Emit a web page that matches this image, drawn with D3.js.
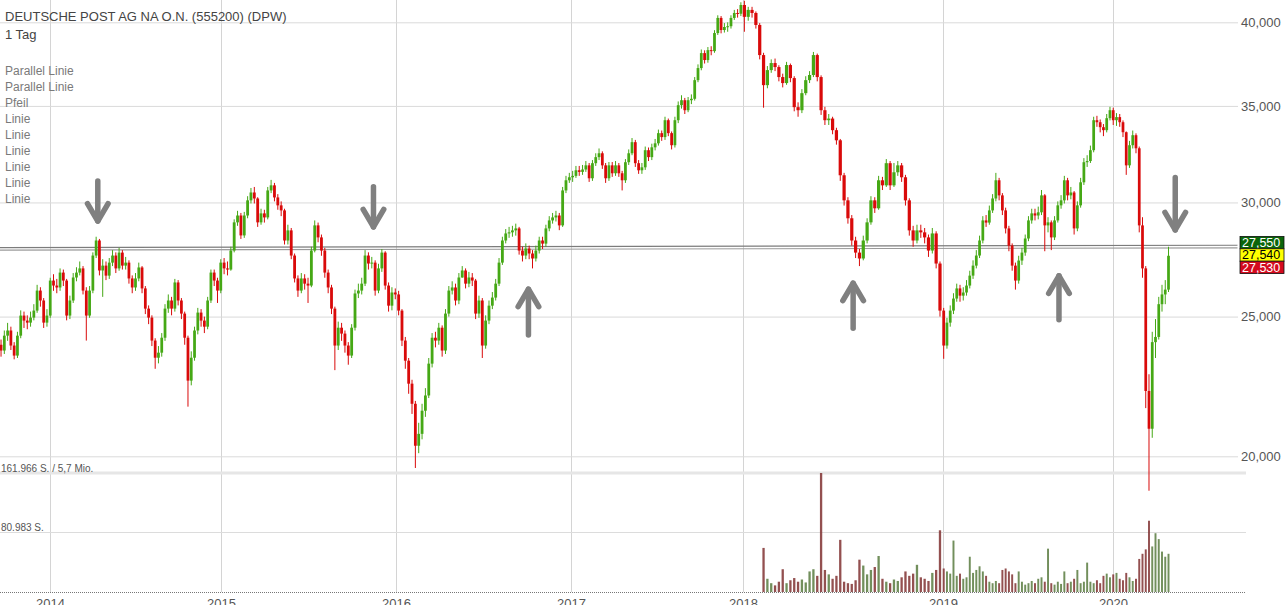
<!DOCTYPE html>
<html><head><meta charset="utf-8">
<script src="https://cdn.jsdelivr.net/npm/d3@7"></script>
<style>
html,body{margin:0;padding:0;background:#fff;overflow:hidden}
svg{display:block;font-family:"Liberation Sans",Arial,sans-serif}
</style></head><body>
<svg id="c" width="1288" height="605"></svg>
<script>
// ---------------- data ----------------
const title = "DEUTSCHE POST AG NA O.N. (555200) (DPW)";
const intervalLabel = "1 Tag";
const drawingList = ["Parallel Linie","Parallel Linie","Pfeil","Linie","Linie","Linie","Linie","Linie","Linie"];
const yearTicks = [2014, 2015, 2016, 2017, 2018, 2019, 2020];
const priceTicks = [20, 25, 30, 35, 40];

const firstWeek = "2013-09-16";   // weekly candles, Monday of each week
const firstOpen = 23.90;
const closes = [
 23.68,24.25,24.45,23.87,23.49,24.25,25.04,24.84,24.76,24.96,25.24,26.06,25.65,24.76,25.04,26.48,
 26.27,26.19,26.82,26.48,25.04,25.65,26.61,26.82,27.00,26.06, 25.04,26.06,27.56,28.23,26.91,27.12,26.69,27.25,27.56,27.00,
 27.69,27.12,27.25,26.57,26.19,26.57,27.04,26.15,25.32,24.96, 24.06,23.41,23.60,24.17,25.32,25.65,25.32,26.40,25.65,25.12,
 24.17,22.57,23.41,24.45,25.16,24.84,24.60,25.65,26.82,26.48, 26.06,27.25,
 27.00,26.95,27.78,29.06,29.38,28.46,29.38,30.10,30.48,30.19, 29.06,29.48,29.29,30.58,30.83,30.24,29.86,29.62,28.23,28.69,
 27.56,26.57,26.06,26.57,26.35,26.27,27.78,28.92,28.37,27.78, 26.82,26.19,25.32,23.87,24.56,24.33,23.87,23.49,24.56,25.94,
 26.06,26.35,27.56,27.21,27.25,26.06,27.00,27.69,26.27,25.44, 25.98,25.90,
 25.24,24.06,23.30,22.46,21.75,20.34,20.73,21.51,22.04,23.19, 24.17,24.06,24.56,23.68,25.12,26.06,26.19,25.65,26.61,26.91,
 26.35,26.61,26.48,25.12,25.65,23.87,24.84,25.44,25.77,26.35, 27.25,28.23,28.55,28.60,28.69,28.78,27.78,27.56,27.87,27.65,
 27.43,27.78,28.23,28.09,28.78,29.15,29.29,29.38,28.92,30.58, 31.08,31.23,
 31.30,31.58,31.50,31.62,31.83,31.18,31.94,32.25,32.45,31.83, 31.18,31.83,31.43,31.83,31.43,31.08,31.99,32.45,33.03,31.94,
 31.58,31.73,32.61,32.25,32.76,32.97,33.51,33.30,34.21,33.51, 32.87,34.21,35.04,35.32,34.76,35.32,35.40,36.47,37.18,38.08,
 37.66,38.26,38.20,39.32,40.28,39.51,39.70,39.75,40.28,40.60, 40.55,41.12,
 40.35,40.80,40.60,39.83,37.96,36.18,37.06,37.48,37.24,36.65, 36.30,37.36,36.59,34.93,34.76,35.72,36.47,36.77,37.96,36.65,
 34.76,34.21,34.30,33.67,33.13,31.33,30.10,29.25,28.23,27.69, 27.43,28.23,29.06,30.10,29.72,31.08,30.83,31.94,30.83,31.48,
 31.83,31.23,30.10,28.69,28.23,28.69,28.60,28.37,27.78,28.55, 27.21,25.24,
 23.87,24.76,25.24,25.73,26.15,25.85,25.98,26.27,26.69,27.12, 27.56,28.23,29.15,29.05,29.62,30.19,31.08,30.34,29.62,28.78,
 28.00,27.12,26.48,27.34,27.69,28.32,29.15,29.48,29.38,29.53, 30.34,28.92,29.06,28.37,29.15,29.86,30.10,31.08,30.34,30.48,
 28.78,29.86,30.98,31.99,32.05,32.61,34.21,34.10,33.83,33.67, 34.32,34.76,
 34.21,34.38,34.10,33.56,31.83,32.87,33.40,32.71,28.92,27.00, 22.20,20.90,24.00,24.20,25.50,25.90,26.10,27.55
];
const highs = [
 24.10,24.45,24.75,24.60,24.00,24.40,25.25,25.20,25.05,25.20,25.50,26.30,26.20,25.75,25.30,26.60,
 26.75,26.55,27.00,26.95,26.55,25.85,26.80,27.05,27.30,27.10, 26.20,26.25,27.70,28.40,28.30,27.40,27.30,27.45,27.80,27.70,
 27.90,27.80,27.50,27.35,26.70,26.80,27.25,27.10,26.25,25.45, 25.05,24.15,23.85,24.35,25.50,25.90,25.80,26.55,26.50,25.75,
 25.20,24.25,23.65,24.60,25.35,25.30,25.00,25.80,26.95,26.95, 26.60,27.40,
 27.45,27.30,27.95,29.20,29.60,29.50,29.55,30.30,30.70,30.75, 30.25,29.70,29.65,30.75,31.10,30.95,30.40,30.05,29.70,28.95,
 28.80,27.65,26.70,26.80,26.75,26.60,27.95,29.15,29.05,28.50, 27.90,26.95,26.30,25.40,24.80,24.75,24.45,24.00,24.70,26.10,
 26.35,26.60,27.80,27.70,27.50,27.35,27.20,27.85,27.75,26.40, 26.20,26.15,
 26.05,25.30,24.20,23.40,22.60,21.85,21.10,21.75,22.30,23.40, 24.35,24.40,24.75,24.65,25.30,26.25,26.45,26.35,26.80,27.10,
 27.00,26.85,26.80,26.55,25.85,25.75,25.05,25.65,26.00,26.55, 27.45,28.40,28.75,28.85,28.90,29.00,28.85,27.95,28.10,28.00,
 27.80,28.00,28.40,28.40,28.95,29.35,29.50,29.60,29.50,30.75, 31.30,31.45,
 31.55,31.80,31.80,31.85,32.05,31.95,32.10,32.45,32.70,32.55, 31.95,32.00,32.00,32.05,31.95,31.55,32.15,32.65,33.25,33.15,
 32.10,31.95,32.80,32.75,32.95,33.20,33.70,33.65,34.40,34.30, 33.60,34.40,35.25,35.60,35.45,35.50,35.65,36.65,37.40,38.30,
 38.25,38.45,38.50,39.50,40.45,40.40,39.95,40.00,40.45,40.80, 40.85,41.30,
 41.40,41.00,41.00,40.70,39.95,38.10,37.30,37.70,37.75,37.35, 36.85,37.55,37.45,36.70,35.20,35.95,36.70,37.00,38.15,38.05,
 36.75,34.95,34.55,34.40,33.80,33.20,31.45,30.25,29.40,28.40, 27.85,28.45,29.25,30.30,30.25,31.30,31.25,32.15,32.05,31.95,
 32.05,31.95,31.35,30.20,28.90,28.95,28.95,28.80,28.50,28.80, 28.65,27.30,
 25.35,24.95,25.45,25.95,26.35,26.30,26.20,26.50,26.90,27.35, 27.80,28.45,29.35,29.40,29.85,30.40,31.45,31.20,30.45,29.75,
 28.90,28.10,27.25,27.55,27.90,28.50,29.35,29.70,29.70,29.80, 30.60,30.40,29.30,29.15,29.35,30.05,30.35,31.30,31.20,30.75,
 30.55,30.05,31.20,32.20,32.35,32.85,34.40,34.45,34.25,34.00, 34.55,34.95,
 34.90,34.60,34.55,34.20,33.60,33.10,33.65,33.50,32.80,29.30, 27.10,22.80,24.40,24.90,25.80,26.30,26.50,27.95
];
const lows = [
 23.45,23.55,24.05,23.70,23.35,23.40,24.15,24.55,24.50,24.60,24.85,25.15,25.40,24.55,24.60,24.95,
 26.05,25.95,26.05,26.25,24.85,24.90,25.55,26.45,26.70,25.90, 24.06,24.95,25.95,27.45,26.70,25.80,26.50,26.55,27.10,26.80,
 26.90,26.95,26.95,26.35,25.95,26.05,26.45,25.95,25.10,24.70, 23.85,23.00,23.20,23.45,24.05,25.15,25.05,25.20,25.45,24.90,
 23.90,21.65,22.40,23.30,24.30,24.60,24.35,24.50,25.55,26.25, 25.55,25.95,
 26.75,26.70,26.90,27.70,28.90,28.30,28.35,29.25,29.95,29.95, 28.85,28.95,29.05,29.20,30.45,30.05,29.65,29.35,28.05,28.05,
 27.40,26.40,25.80,25.95,26.10,25.55,26.20,27.70,28.15,27.55, 26.60,25.95,25.10,22.95,23.70,24.05,23.60,23.15,23.40,24.45,
 25.75,25.90,26.25,26.95,27.00,25.85,25.95,26.85,26.10,25.20, 25.25,25.70,
 25.05,23.85,23.00,22.10,21.40,19.63,20.10,20.55,21.30,21.95, 23.05,23.80,23.90,23.45,23.55,25.00,25.90,25.45,25.50,26.60,
 26.15,26.20,26.25,24.90,24.95,23.40,23.75,24.70,25.30,25.65, 26.25,27.15,28.10,28.35,28.40,28.45,27.60,27.30,27.40,27.40,
 27.00,27.30,27.65,27.85,27.95,28.65,29.00,29.10,28.70,28.85, 30.45,30.95,
 31.00,31.20,31.30,31.35,31.50,31.00,31.05,31.80,32.10,31.65, 30.95,31.05,31.25,31.30,31.25,30.58,30.95,31.85,32.35,31.75,
 31.40,31.40,31.60,32.05,32.10,32.60,32.85,33.10,33.15,33.35, 32.65,32.75,34.05,34.85,34.55,34.65,35.10,35.30,36.35,37.05,
 37.45,37.50,37.95,38.10,39.20,39.30,39.35,39.40,39.60,40.15, 40.30,40.40,
 39.40,40.10,40.30,39.60,37.70,34.90,36.00,36.90,37.00,36.40, 36.05,36.20,36.35,34.70,34.40,34.60,35.60,36.30,36.65,36.40,
 34.50,33.95,33.95,33.45,32.90,31.05,29.85,29.00,28.00,27.45, 27.10,27.35,28.10,28.95,29.50,29.65,30.60,30.75,30.60,30.75,
 31.30,31.00,29.85,28.45,27.95,28.10,28.35,28.10,27.50,27.65, 27.00,25.00,
 23.37,23.75,24.60,25.10,25.60,25.60,25.65,25.85,26.15,26.55, 27.00,27.45,28.10,28.85,28.95,29.50,30.05,30.10,29.40,28.55,
 27.75,26.90,26.10,26.35,27.15,27.55,28.20,29.00,29.15,29.20, 29.40,27.75,28.60,27.80,28.25,29.05,29.70,29.95,30.10,30.15,
 28.50,28.65,29.75,30.85,31.75,31.95,32.50,33.85,33.55,33.35, 33.55,34.20,
 33.95,33.90,33.85,33.30,31.35,31.70,32.70,32.45,28.60,26.60, 21.60,18.93,20.60,23.40,24.10,25.20,25.50,26.00
];

const volumeStart = "2018-02-05";
const volumes = [
 60000,18000,12000,9000,14000,31000,12000,16000,19000,14000, 17000,13000,28000,31000,22000,161966,30000,24000,18000,22000,
 71000,14000,12000,11000,16000,44000,36000,24000,30000,34000, 49000,18000,14000,12000,17000,15000,20000,28000,22000,25000,
 37000,20000,18000,15000,26000,30000,84000,
 32000,28000,25000,70000,22000,25000,18000,20000,48000,26000, 30000,35000,28000,22000,14000,12000,15000,12000,30000,32000,
 28000,24000,12000,28000,14000,10000,12000,15000,12000,18000, 20000,14000,59000,12000,10000,14000,11000,28000,12000,14000,
 18000,30000,12000,14000,40000,14000,12000,16000,12000,22000, 25000,20000,
 24000,26000,18000,16000,26000,20000,15000,18000,45000,52000, 58000,97000,62000,80000,72000,55000,48000,52000
];
const volumeMax = 161966;
const volumeTopLabel = "161.966 S. / 5,7 Mio.";
const volumeMidLabel = "80.983 S.";

const quoteValues = [27.55, 27.54, 27.53];
const parallelLines = [
  {from: "2013-09-16", p1: 27.91, to: "2020-09-25", p2: 28.02},
  {from: "2013-09-16", p1: 27.80, to: "2020-09-25", p2: 27.90}
];
const arrows = [
  {date: "2014-04-13", tip: 29.12, tail: 31.05},
  {date: "2015-11-15", tip: 28.85, tail: 30.76},
  {date: "2016-10-04", tip: 26.12, tail: 24.28},
  {date: "2018-07-21", tip: 26.37, tail: 24.54},
  {date: "2019-09-07", tip: 26.68, tail: 24.87},
  {date: "2020-05-14", tip: 28.71, tail: 31.22}
];

// ---------------- layout ----------------
const svg = d3.select("#c");
const plotRight = 1238;
const volBase = 592, volTop = 473;
const FONT = '"Liberation Sans", Arial, sans-serif';
const parse = d3.timeParse("%Y-%m-%d");

const x = d3.scaleTime()
  .domain(d3.range(2013, 2022).map(yy => new Date(yy, 0, 1)))
  .range([-121, 50, 221, 396, 571, 743, 943, 1113, 1283]);
const y = d3.scaleLog().domain([20, 40]).range([456.3, 22.3]);
const yv = d3.scaleLinear().domain([0, volumeMax]).range([volBase, volTop]);
const fmtPrice = v => v.toFixed(3).replace(".", ",");

const start = parse(firstWeek);
const candles = closes.map((c, i) => {
  const d = d3.timeDay.offset(start, 7 * i);
  const o = i === 0 ? firstOpen : closes[i - 1];
  const cx = x(d3.timeHour.offset(d, 60));
  const step = x(d3.timeDay.offset(d, 7)) - x(d);
  return {d, o, c, h: highs[i], l: lows[i], cx, step, up: c >= o};
});

// ---------------- grid & axes ----------------
const xAxis = d3.axisBottom(x)
  .tickValues(yearTicks.map(yy => new Date(yy, 0, 1)))
  .tickFormat(d3.timeFormat("%Y"))
  .tickSize(-volBase).tickPadding(6.5);
const gx = svg.append("g").attr("transform", `translate(0,${volBase})`).call(xAxis);
gx.select(".domain").remove();
gx.selectAll(".tick line").attr("stroke", "#d4d4d4");
gx.selectAll(".tick text").attr("font-family", FONT).attr("font-size", 13).attr("fill", "#555");

const yAxis = d3.axisRight(y).tickValues(priceTicks).tickFormat(fmtPrice)
  .tickSize(-plotRight).tickPadding(3);
const gy = svg.append("g").attr("transform", `translate(${plotRight},0)`).call(yAxis);
gy.select(".domain").remove();
gy.selectAll(".tick line").attr("stroke", "#dadada");
gy.selectAll(".tick text").attr("font-family", FONT).attr("font-size", 13).attr("fill", "#555");

// volume panel lines
svg.append("line").attr("x1", 0).attr("x2", 1246).attr("y1", yv(volumeMax)).attr("y2", yv(volumeMax))
  .attr("stroke", "#e6e6e6").attr("stroke-width", 3);
svg.append("line").attr("x1", 0).attr("x2", 1246).attr("y1", yv(volumeMax / 2)).attr("y2", yv(volumeMax / 2))
  .attr("stroke", "#dcdcdc");
svg.append("line").attr("x1", 0).attr("x2", 1246).attr("y1", volBase + 0.5).attr("y2", volBase + 0.5)
  .attr("stroke", "#777").attr("stroke-dasharray", "1,1");

svg.append("text").attr("x", 1).attr("y", yv(volumeMax) - 1).attr("font-family", FONT).attr("font-size", 10)
  .attr("fill", "#555").text(volumeTopLabel);
svg.append("text").attr("x", 1).attr("y", yv(volumeMax / 2) - 2).attr("font-family", FONT).attr("font-size", 10)
  .attr("fill", "#555").text(volumeMidLabel);

// parallel lines
svg.selectAll(".pl").data(parallelLines).join("line")
  .attr("x1", d => x(parse(d.from))).attr("x2", d => x(parse(d.to)))
  .attr("y1", d => y(d.p1)).attr("y2", d => y(d.p2))
  .attr("stroke", (d, i) => i === 0 ? "#7c7c7c" : "#9a9a9a").attr("stroke-width", 1.1);

// ---------------- volume ----------------
const vOffset = Math.round((parse(volumeStart) - start) / (7 * 864e5));
svg.append("g").selectAll("rect").data(volumes).join("rect")
  .attr("x", (v, j) => candles[vOffset + j].cx - candles[vOffset + j].step * 0.3)
  .attr("width", (v, j) => candles[vOffset + j].step * 0.6)
  .attr("y", v => yv(v))
  .attr("height", v => volBase - yv(v))
  .attr("fill", (v, j) => candles[vOffset + j].up ? "#5f7f45" : "#843838")
  .attr("opacity", 0.88);

// ---------------- candles ----------------
const UP = "#45a815", DOWN = "#d90a0a";
const gc = svg.append("g");
gc.selectAll("line").data(candles).join("line")
  .attr("x1", d => d.cx).attr("x2", d => d.cx)
  .attr("y1", d => y(d.h)).attr("y2", d => y(d.l))
  .attr("stroke", d => d.up ? UP : DOWN).attr("stroke-width", 1);
gc.selectAll("rect").data(candles).join("rect")
  .attr("x", d => d.cx - d.step * 0.42).attr("width", d => d.step * 0.84)
  .attr("y", d => y(Math.max(d.o, d.c)))
  .attr("height", d => Math.max(1, y(Math.min(d.o, d.c)) - y(Math.max(d.o, d.c))))
  .attr("fill", d => d.up ? UP : DOWN);

// ---------------- arrows ----------------
const ga = svg.append("g").attr("fill", "none").attr("stroke", "#808080")
  .attr("stroke-width", 5.5).attr("stroke-linecap", "round").attr("stroke-linejoin", "round");
arrows.forEach(a => {
  const ax = x(parse(a.date)), yt = y(a.tip), yb = y(a.tail);
  const dir = yb < yt ? -1 : 1; // head arms go back toward tail
  ga.append("path").attr("d", `M${ax},${yb}L${ax},${yt}`);
  ga.append("path").attr("d", `M${ax - 10.3},${yt + dir * 17.5}L${ax},${yt}L${ax + 10.3},${yt + dir * 17.5}`);
});

// ---------------- texts ----------------
svg.append("text").attr("x", 5).attr("y", 21).attr("font-family", FONT).attr("font-size", 13)
  .attr("fill", "#444").text(title);
svg.append("text").attr("x", 5).attr("y", 39).attr("font-family", FONT).attr("font-size", 13)
  .attr("fill", "#444").text(intervalLabel);
svg.selectAll(".dl").data(drawingList).join("text")
  .attr("x", 5).attr("y", (d, i) => 75 + 16 * i)
  .attr("font-family", FONT).attr("font-size", 12).attr("fill", "#7a7a7a").text(d => d);

// ---------------- quote boxes ----------------
const qStyles = [{fill: "#0a650a", text: "#fff"}, {fill: "#ffff00", text: "#000"}, {fill: "#d40a1e", text: "#fff"}];
const qCenter = y(quoteValues[1]) - 1;
const bh = 12.4;
const gq = svg.append("g");
quoteValues.forEach((v, i) => {
  const cy = qCenter + (i - 1) * bh;
  gq.append("rect").attr("x", 1240).attr("y", cy - bh / 2).attr("width", 44).attr("height", bh)
    .attr("fill", qStyles[i].fill).attr("stroke", "#111").attr("stroke-width", 0.8);
  gq.append("text").attr("x", 1242).attr("y", cy + 4.3).attr("font-family", FONT).attr("font-size", 12.5)
    .attr("fill", qStyles[i].text).text(fmtPrice(v));
});
</script>
</body></html>
